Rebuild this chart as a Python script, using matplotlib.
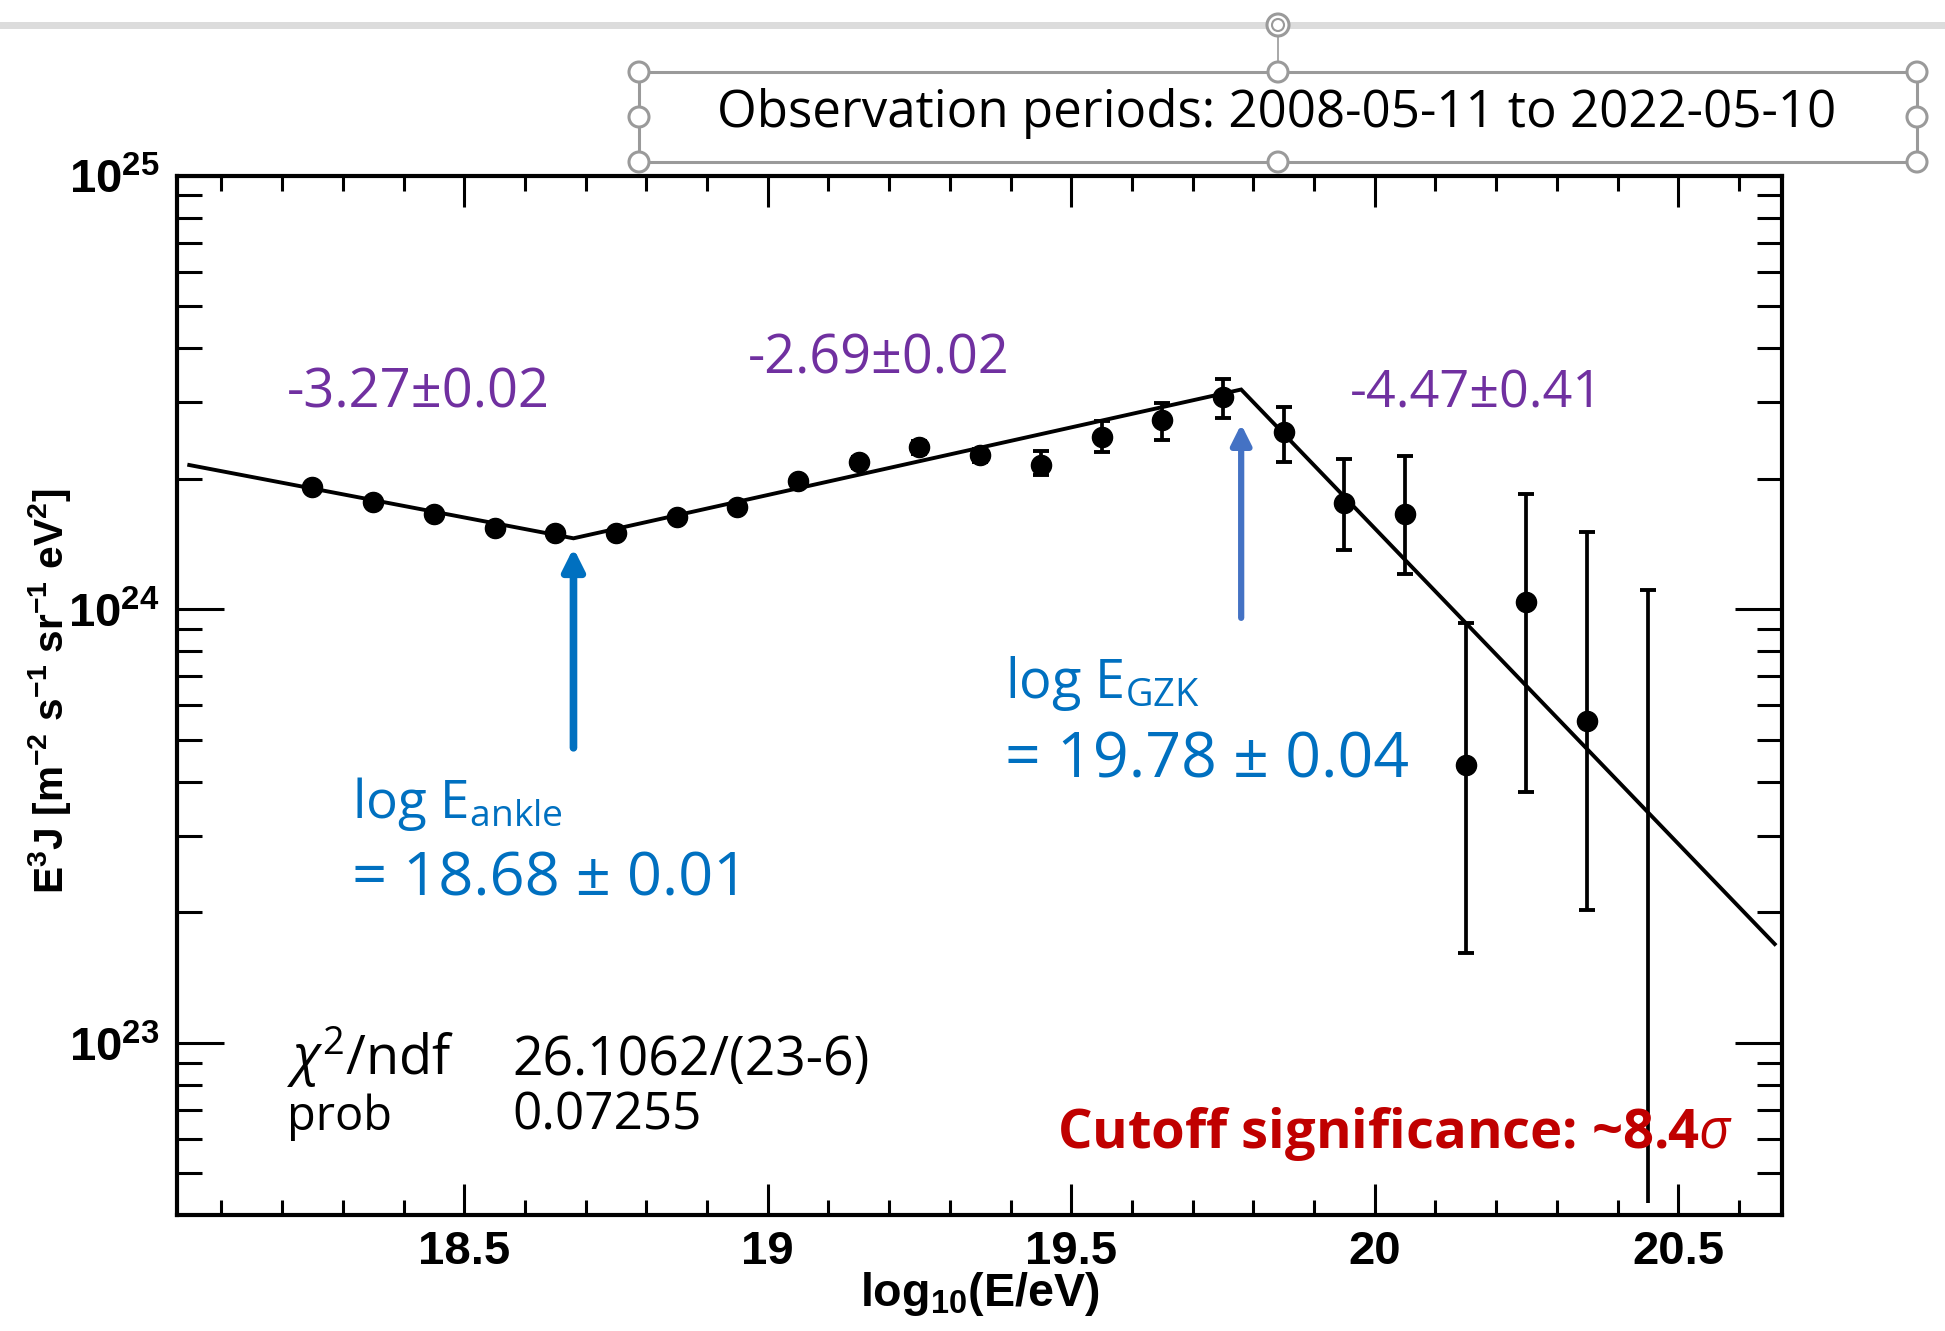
import numpy as np
import matplotlib
matplotlib.use("Agg")
import matplotlib.pyplot as plt
from matplotlib.ticker import MultipleLocator, LogLocator, FixedLocator, FixedFormatter, NullFormatter
from matplotlib.patches import Rectangle, Circle
from matplotlib.lines import Line2D
from matplotlib.transforms import IdentityTransform

# ---------------- data ----------------
log_E = [18.25, 18.35, 18.45, 18.55, 18.65, 18.75, 18.85, 18.95, 19.05, 19.15,
         19.25, 19.35, 19.45, 19.55, 19.65, 19.75, 19.85, 19.95, 20.05, 20.15,
         20.25, 20.35, 20.45]
flux = [1.916e24, 1.770e24, 1.655e24, 1.541e24, 1.501e24, 1.501e24, 1.629e24,
        1.723e24, 1.976e24, 2.182e24, 2.362e24, 2.267e24, 2.150e24, 2.499e24,
        2.730e24, 3.077e24, 2.560e24, 1.755e24, 1.658e24, 4.38e23, 1.04e24,
        5.51e23, np.nan]
flux_lo = [1.88e24, 1.74e24, 1.625e24, 1.51e24, 1.47e24, 1.47e24, 1.595e24,
           1.685e24, 1.93e24, 2.12e24, 2.28e24, 2.19e24, 2.04e24, 2.30e24,
           2.455e24, 2.754e24, 2.188e24, 1.37e24, 1.205e24, 1.61e23, 3.79e23,
           2.03e23, 4.27e22]
flux_hi = [1.95e24, 1.80e24, 1.685e24, 1.57e24, 1.53e24, 1.53e24, 1.66e24,
           1.76e24, 2.02e24, 2.24e24, 2.44e24, 2.34e24, 2.31e24, 2.72e24,
           2.983e24, 3.39e24, 2.92e24, 2.22e24, 2.25e24, 9.31e23, 1.845e24,
           1.51e24, 1.11e24]

fit_x = [18.047, 18.68, 19.78, 20.659]
fit_y = [2.15e24, 1.457e24, 3.21e24, 1.69e23]

x_ticks = [18.5, 19.0, 19.5, 20.0, 20.5]
x_tick_labels = ["18.5", "19", "19.5", "20", "20.5"]
y_ticks = [1e23, 1e24, 1e25]
y_tick_labels = [r"$\mathbf{10^{23}}$", r"$\mathbf{10^{24}}$", r"$\mathbf{10^{25}}$"]

slope_labels = ["-3.27\u00b10.02", "-2.69\u00b10.02", "-4.47\u00b10.41"]
ankle_label = ["log E$_{\\mathrm{ankle}}$", "= 18.68 \u00b1 0.01"]
gzk_label = ["log E$_{\\mathrm{GZK}}$", "= 19.78 \u00b1 0.04"]
ankle_pos = 18.68
gzk_pos = 19.78
stat_names = [r"$\chi^{2}$/ndf", "prob"]
stat_values = ["26.1062/(23-6)", "0.07255"]
cutoff_text = r"Cutoff significance: ~8.4$\sigma$"
obs_text = "Observation periods: 2008-05-11 to 2022-05-10"

# ---------------- style ----------------
plt.rcParams["mathtext.fontset"] = "custom"
plt.rcParams["mathtext.rm"] = "Open Sans"
plt.rcParams["mathtext.it"] = "Open Sans:italic"
plt.rcParams["mathtext.bf"] = "Liberation Sans:bold"
plt.rcParams["font.family"] = ["Open Sans", "DejaVu Sans"]

W, H = 1945, 1331
DPI = 100
fig = plt.figure(figsize=(W / DPI, H / DPI), dpi=DPI)
fig.patch.set_facecolor("white")

L, R, T, B = 176.5, 1782, 175.5, 1215
ax = fig.add_axes([L / W, 1 - B / H, (R - L) / W, (B - T) / H])


def fx(x):
    return x / W


def fy(y):
    return 1 - y / H


# fit line
ax.plot(fit_x, fit_y, color="black", lw=2.8, zorder=2, solid_joinstyle="miter")

# error bars
xe = np.array(log_E)
fl = np.array(flux)
lo = np.array(flux_lo)
hi = np.array(flux_hi)
ax.vlines(xe, lo, hi, color="black", lw=2.7, zorder=3)
ax.plot(xe, hi, ls="none", marker="_", ms=11, mew=2.8, color="black", zorder=3)
ok = np.isfinite(fl)
ax.plot(xe[ok], lo[ok], ls="none", marker="_", ms=11, mew=2.8, color="black", zorder=3)
ax.plot(xe[ok], fl[ok], ls="none", marker="o", ms=14.5, color="black", zorder=4)

ax.set_yscale("log")
ax.set_xlim(18.026, 20.671)
ax.set_ylim(4.01e22, 1e25)

ax.xaxis.set_major_locator(FixedLocator(x_ticks))
ax.xaxis.set_major_formatter(FixedFormatter(x_tick_labels))
ax.xaxis.set_minor_locator(MultipleLocator(0.1))
ax.yaxis.set_major_locator(FixedLocator(y_ticks))
ax.yaxis.set_major_formatter(FixedFormatter(y_tick_labels))
ax.yaxis.set_minor_locator(LogLocator(base=10, subs=np.arange(2, 10), numticks=20))
ax.yaxis.set_minor_formatter(NullFormatter())

for s in ax.spines.values():
    s.set_linewidth(3)
ax.tick_params(which="both", direction="in", top=True, right=True, width=2.2, color="black")
ax.xaxis.set_tick_params(which="major", length=22, pad=11)
ax.xaxis.set_tick_params(which="minor", length=11)
ax.yaxis.set_tick_params(which="major", length=34, pad=12)
ax.yaxis.set_tick_params(which="minor", length=18)
for lab in ax.get_xticklabels():
    lab.set_fontfamily("Liberation Sans")
    lab.set_fontweight("bold")
    lab.set_fontsize(34)
for lab in ax.get_yticklabels():
    lab.set_fontsize(34)

# arrows
ax.annotate("", xy=(ankle_pos, 1.384e24), xytext=(ankle_pos, 4.79e23),
            arrowprops=dict(arrowstyle="-|>", color="#0070C0", lw=5.5, mutation_scale=32,
                            shrinkA=0, shrinkB=0), zorder=5)
ax.annotate("", xy=(gzk_pos, 2.67e24), xytext=(gzk_pos, 9.55e23),
            arrowprops=dict(arrowstyle="-|>", color="#4472C4", lw=4.5, mutation_scale=30,
                            shrinkA=0, shrinkB=0), zorder=5)

# ---------------- texts ----------------
texts = []  # (text, target extent px, rotated?)
purple = "#7030A0"
blue = "#0070C0"
slope_pos = [(287, 407, 263), (748, 373, 261), (1350, 407, 253)]
for s, (x, y, w) in zip(slope_labels, slope_pos):
    t = fig.text(fx(x), fy(y), s, color=purple, fontsize=36, ha="left", va="baseline")
    texts.append((t, w, False))

t = fig.text(fx(352), fy(818), ankle_label[0], color=blue, fontsize=36, ha="left", va="baseline")
texts.append((t, 211, False))
t = fig.text(fx(352), fy(895), ankle_label[1], color=blue, fontsize=36, ha="left", va="baseline")
texts.append((t, 396, False))
t = fig.text(fx(1005), fy(698), gzk_label[0], color=blue, fontsize=36, ha="left", va="baseline")
texts.append((t, 195, False))
t = fig.text(fx(1005), fy(777), gzk_label[1], color=blue, fontsize=36, ha="left", va="baseline")
texts.append((t, 403, False))

t = fig.text(fx(287), fy(1075), stat_names[0], color="black", fontsize=34, ha="left", va="baseline")
texts.append((t, 168, False))
t = fig.text(fx(287), fy(1130), stat_names[1], color="black", fontsize=34, ha="left", va="baseline")
texts.append((t, 105, False))
t = fig.text(fx(512), fy(1075), stat_values[0], color="black", fontsize=34, ha="left", va="baseline")
texts.append((t, 358, False))
t = fig.text(fx(512), fy(1130), stat_values[1], color="black", fontsize=34, ha="left", va="baseline")
texts.append((t, 190, False))

t = fig.text(fx(1057), fy(1148), cutoff_text, color="#C00000", fontsize=34, fontweight="bold",
             ha="left", va="baseline")
texts.append((t, 677, False))

t = fig.text(fx(717), fy(127), obs_text, color="black", fontsize=36, ha="left", va="baseline")
texts.append((t, 1119, False))

# axis labels
t = fig.text(fx(980), fy(1270), r"$\mathbf{log_{10}(E/eV)}$", fontsize=33, ha="center", va="top")
texts.append((t, 240, False))
t = fig.text(fx(50), fy(691), r"$\mathbf{E^{3}J\ [m^{-2}\ s^{-1}\ sr^{-1}\ eV^{2}]}$",
             fontsize=30, rotation=90, ha="center", va="center")
texts.append((t, 405, True))

fig.canvas.draw()
r = fig.canvas.get_renderer()
for t, w, rot in texts:
    bb = t.get_window_extent(renderer=r)
    cur = bb.height if rot else bb.width
    t.set_fontsize(t.get_fontsize() * w / cur)

# ---------------- slide decorations (PowerPoint selection frame) ----------------
idt = IdentityTransform()
gray = "#9a9a9a"
fig.add_artist(Line2D([0, W], [H - 25, H - 25], transform=idt, color="#dcdcdc", lw=5))
fig.add_artist(Line2D([1278, 1278], [H - 36, H - 72], transform=idt, color=gray, lw=1.2))
fig.add_artist(Rectangle((639, H - 162), 1278, 90, transform=idt, fill=False,
                         edgecolor=gray, lw=2.2))
for cx in (639, 1278, 1917):
    for cy in (72, 117, 162):
        if cx == 1278 and cy == 117:
            continue
        fig.add_artist(Circle((cx, H - cy), 10, transform=idt, facecolor="white",
                              edgecolor=gray, lw=2.2, zorder=10))
fig.add_artist(Circle((1278, H - 25), 11, transform=idt, facecolor="white",
                      edgecolor=gray, lw=2.2, zorder=10))
fig.add_artist(Circle((1278, H - 25), 6, transform=idt, facecolor="none",
                      edgecolor=gray, lw=1.5, zorder=11))

fig.savefig("out.png", dpi=DPI, facecolor="white")
